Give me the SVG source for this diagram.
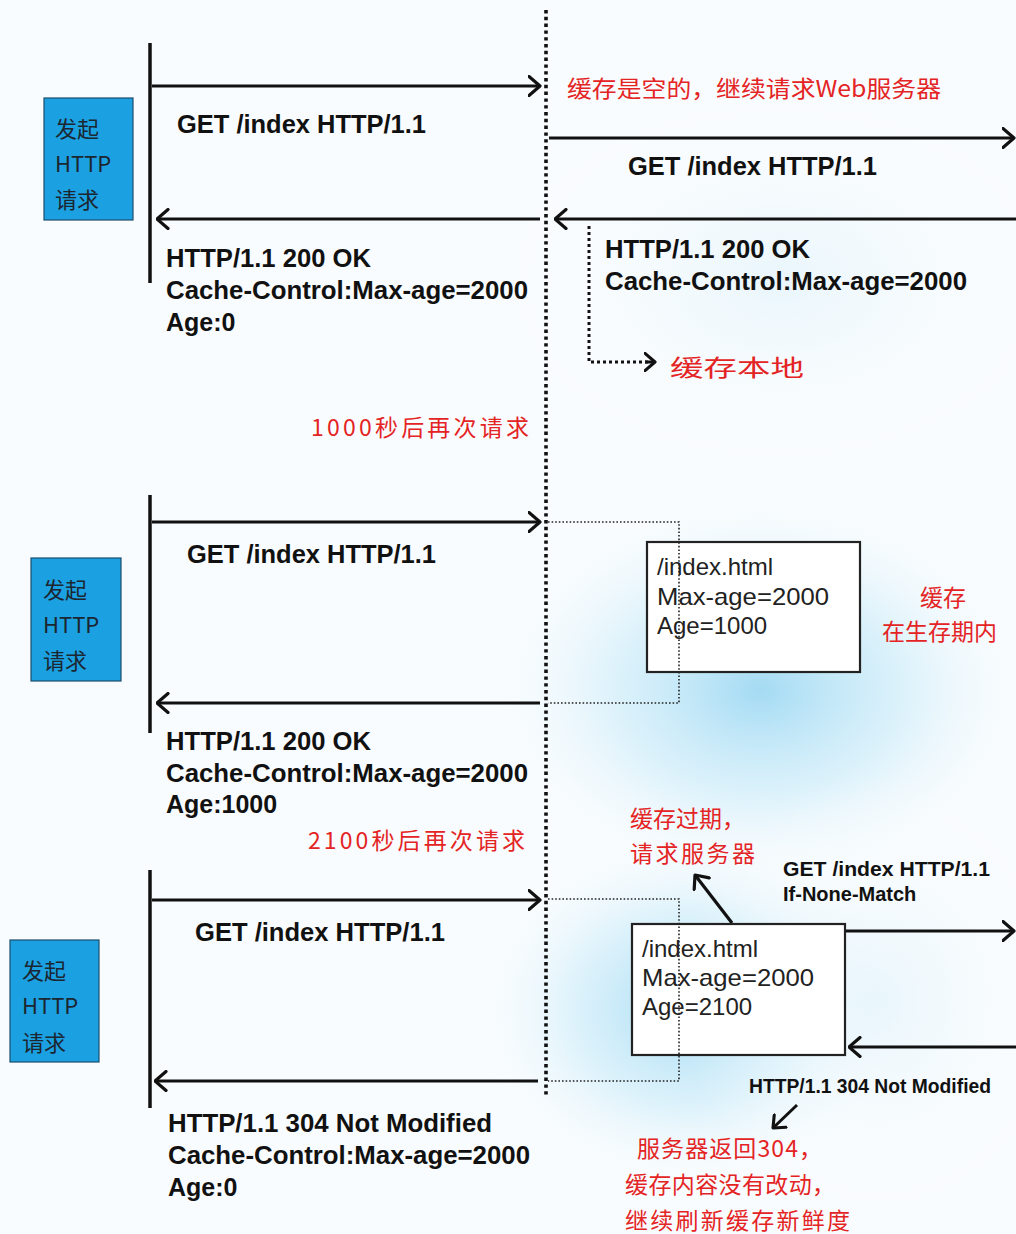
<svg xmlns="http://www.w3.org/2000/svg" width="1016" height="1234" viewBox="0 0 1016 1234">
<defs>
<radialGradient id="glow" cx="50%" cy="50%" r="50%">
<stop offset="0" stop-color="#9fd9f3" stop-opacity="0.95"/>
<stop offset="0.5" stop-color="#c9ebf9" stop-opacity="0.6"/>
<stop offset="1" stop-color="#ffffff" stop-opacity="0"/>
</radialGradient>
<radialGradient id="glowsoft" cx="50%" cy="50%" r="50%">
<stop offset="0" stop-color="#e2f3fb" stop-opacity="0.7"/>
<stop offset="1" stop-color="#ffffff" stop-opacity="0"/>
</radialGradient>
<marker id="chev" viewBox="0 0 14 22" refX="12.5" refY="11" markerWidth="14" markerHeight="22" markerUnits="userSpaceOnUse" orient="auto">
<path d="M1.5,1.5 L12.5,11 L1.5,20.5" fill="none" stroke="#111" stroke-width="3.2" stroke-linecap="round" stroke-linejoin="round"/>
</marker>
<marker id="chevs" viewBox="0 0 14 22" refX="12.5" refY="11" markerWidth="13" markerHeight="20" markerUnits="userSpaceOnUse" orient="auto">
<path d="M1.5,1.5 L12.5,11 L1.5,20.5" fill="none" stroke="#111" stroke-width="3.4" stroke-linecap="round" stroke-linejoin="round"/>
</marker>
</defs>
<style>
.bg{fill:#f9fcfe}
.life{stroke:#111;stroke-width:3.5;fill:none}
.msg{stroke:#111;stroke-width:3.2;fill:none;marker-end:url(#chev)}
.msgs{stroke:#111;stroke-width:3;fill:none;marker-end:url(#chevs)}
.center{stroke:#111;stroke-width:3.6;fill:none;stroke-dasharray:3.4 3.4}
.thin{stroke:#222;stroke-width:1.6;fill:none;stroke-dasharray:1.6 2}
.ldot{stroke:#111;stroke-width:3;fill:none;stroke-dasharray:3 3}
.req{fill:#1ba1e2;stroke:#1d4d6b;stroke-width:1.2}
.reqt{font-family:"Noto Sans CJK SC","Noto Sans",sans-serif;font-size:22px;fill:#1c2630}
.b{font-family:"Liberation Sans",Arial,sans-serif;font-weight:bold;font-size:25px;fill:#111}
.bs{font-family:"Liberation Sans",Arial,sans-serif;font-weight:bold;font-size:20px;fill:#111}
.r{font-family:"Liberation Sans",Arial,sans-serif;font-size:24px;fill:#222}
.red{font-family:"Noto Sans CJK SC",sans-serif;font-size:23px;fill:#e42424}
.box{fill:#fff;stroke:#222;stroke-width:2.2}
</style>
<rect class="bg" x="0" y="0" width="1016" height="1234"/>
<ellipse cx="780" cy="280" rx="300" ry="200" fill="url(#glowsoft)"/>
<ellipse cx="760" cy="690" rx="290" ry="210" fill="url(#glow)"/>
<ellipse cx="690" cy="1010" rx="230" ry="190" fill="url(#glow)"/>
<ellipse cx="880" cy="1000" rx="200" ry="230" fill="url(#glowsoft)"/>

<g id="connectors">
<line class="center" x1="546" y1="10" x2="546" y2="1096"/>
<line class="msg" x1="152" y1="86" x2="540" y2="86"/>
<line class="msg" x1="540" y1="219" x2="157" y2="219"/>
<line class="msg" x1="549" y1="138" x2="1014" y2="138"/>
<line class="msg" x1="1016" y1="219" x2="555" y2="219"/>
<polyline class="ldot" points="589,226 589,362 650,362"/>
<line class="msgs" x1="645" y1="362" x2="655" y2="362"/>
<line class="msg" x1="152" y1="522" x2="540" y2="522"/>
<line class="msg" x1="540" y1="703" x2="157" y2="703"/>
<line class="msg" x1="152" y1="900" x2="540" y2="900"/>
<line class="msg" x1="538" y1="1081" x2="155" y2="1081"/>
<line class="msg" x1="846" y1="931" x2="1014" y2="931"/>
<line class="msg" x1="1016" y1="1047" x2="849" y2="1047"/>
<line class="msg" x1="732" y1="923" x2="695" y2="875"/>
<line class="msgs" x1="797" y1="1105" x2="773" y2="1128"/>
</g>

<g id="lifelines">
<line class="life" x1="150" y1="43" x2="150" y2="283"/>
<line class="life" x1="150" y1="495" x2="150" y2="733"/>
<line class="life" x1="150" y1="870" x2="150" y2="1108"/>
</g>

<g id="req1">
<rect class="req" x="44" y="98" width="89" height="122"/>
<text class="reqt" x="55" y="137">发起</text>
<text class="reqt" x="55" y="172">HTTP</text>
<text class="reqt" x="55" y="208">请求</text>
</g>
<g id="req2">
<rect class="req" x="31" y="558" width="90" height="123"/>
<text class="reqt" x="43" y="598">发起</text>
<text class="reqt" x="43" y="633">HTTP</text>
<text class="reqt" x="43" y="669">请求</text>
</g>
<g id="req3">
<rect class="req" x="10" y="940" width="89" height="122"/>
<text class="reqt" x="22" y="979">发起</text>
<text class="reqt" x="22" y="1014">HTTP</text>
<text class="reqt" x="22" y="1051">请求</text>
</g>

<g id="labels1">
<text class="b" x="177" y="133" textLength="249" lengthAdjust="spacingAndGlyphs">GET /index HTTP/1.1</text>
<text class="b" x="166" y="267" textLength="205" lengthAdjust="spacingAndGlyphs">HTTP/1.1 200 OK</text>
<text class="b" x="166" y="299" textLength="362" lengthAdjust="spacingAndGlyphs">Cache-Control:Max-age=2000</text>
<text class="b" x="166" y="331">Age:0</text>
<text class="red" x="567" y="97" font-size="24" textLength="374" lengthAdjust="spacingAndGlyphs">缓存是空的，继续请求Web服务器</text>
<text class="b" x="628" y="175" textLength="249" lengthAdjust="spacingAndGlyphs">GET /index HTTP/1.1</text>
<text class="b" x="605" y="258" textLength="205" lengthAdjust="spacingAndGlyphs">HTTP/1.1 200 OK</text>
<text class="b" x="605" y="290" textLength="362" lengthAdjust="spacingAndGlyphs">Cache-Control:Max-age=2000</text>
<text class="red" x="670" y="376" font-size="32" textLength="134" lengthAdjust="spacingAndGlyphs">缓存本地</text>
<text class="red" x="311" y="436" font-size="22" textLength="218" lengthAdjust="spacing">1000秒后再次请求</text>
</g>

<g id="labels2">
<text class="b" x="187" y="563" textLength="249" lengthAdjust="spacingAndGlyphs">GET /index HTTP/1.1</text>
<text class="b" x="166" y="750" textLength="205" lengthAdjust="spacingAndGlyphs">HTTP/1.1 200 OK</text>
<text class="b" x="166" y="782" textLength="362" lengthAdjust="spacingAndGlyphs">Cache-Control:Max-age=2000</text>
<text class="b" x="166" y="813">Age:1000</text>
<text class="red" x="920" y="606" font-size="22">缓存</text>
<text class="red" x="882" y="640" font-size="22" textLength="115" lengthAdjust="spacing">在生存期内</text>
<text class="red" x="308" y="849" font-size="22" textLength="217" lengthAdjust="spacing">2100秒后再次请求</text>
</g>

<g id="cache1">
<rect class="box" x="647" y="542" width="213" height="130"/>
<text class="r" x="657" y="575">/index.html</text>
<text class="r" x="657" y="605" textLength="172" lengthAdjust="spacingAndGlyphs">Max-age=2000</text>
<text class="r" x="657" y="634">Age=1000</text>
</g>
<polyline class="thin" points="548,522 679,522 679,703 548,703"/>

<g id="labels3">
<text class="b" x="195" y="941" textLength="250" lengthAdjust="spacingAndGlyphs">GET /index HTTP/1.1</text>
<text class="b" x="168" y="1132" textLength="324" lengthAdjust="spacingAndGlyphs">HTTP/1.1 304 Not Modified</text>
<text class="b" x="168" y="1164" textLength="362" lengthAdjust="spacingAndGlyphs">Cache-Control:Max-age=2000</text>
<text class="b" x="168" y="1196">Age:0</text>
<text class="red" x="630" y="827" font-size="23">缓存过期，</text>
<text class="red" x="630" y="862" font-size="24" textLength="125" lengthAdjust="spacing">请求服务器</text>
<text class="bs" x="783" y="876" textLength="207" lengthAdjust="spacingAndGlyphs">GET /index HTTP/1.1</text>
<text class="bs" x="783" y="901">If-None-Match</text>
<text class="bs" x="749" y="1093" font-size="18" textLength="242" lengthAdjust="spacingAndGlyphs">HTTP/1.1 304 Not Modified</text>
<text class="red" x="637" y="1157" font-size="24" textLength="185" lengthAdjust="spacing">服务器返回304，</text>
<text class="red" x="625" y="1193" font-size="24" textLength="210" lengthAdjust="spacing">缓存内容没有改动，</text>
<text class="red" x="625" y="1229" font-size="24" textLength="225" lengthAdjust="spacing">继续刷新缓存新鲜度</text>
</g>

<g id="cache2">
<rect class="box" x="632" y="924" width="213" height="131"/>
<text class="r" x="642" y="957">/index.html</text>
<text class="r" x="642" y="986" textLength="172" lengthAdjust="spacingAndGlyphs">Max-age=2000</text>
<text class="r" x="642" y="1015">Age=2100</text>
</g>
<polyline class="thin" points="548,899 679,899 679,1081 548,1081"/>
</svg>
